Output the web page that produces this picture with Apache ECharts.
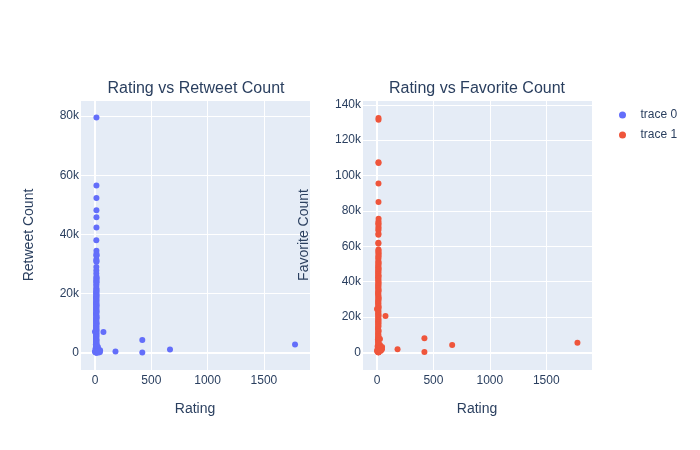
<!DOCTYPE html>
<html>
<head>
<meta charset="utf-8">
<script src="https://cdn.jsdelivr.net/npm/echarts@6/dist/echarts.min.js"></script>
<style>html,body{margin:0;padding:0;background:#fff}#c{width:700px;height:450px}</style>
</head>
<body>
<div id="c"></div>
<script>
// Data (rating, retweet count, favorite count)
const ratings = [
  12,13,12,13,11,12,13,10,12,13,11,12,13,12,10,11,13,12,12,11,
  13,10,12,11,12,13,10,11,12,9,13,10,11,12,8,10,11,7,9,5,
  12,3,10,14,12,13,11,
  26,27,44,45,24,20,17,15,
  12,13,14,13,12,12,12,13,13,12,13,14,13,13,12,13,13,13,13,
  0,75,182,420,420,666,1776,
  13,13,
  13,12,11,13,12,10,13,12,11,13,12,10,13,11,12,13,12,10,11,13,
  12,12,11,13,10,12,13,11,12,10,13,11,12,9,10,13,6,12,8,2,11,
  4,30,34,
  12,13,12,13
];
const retweets = [
  21800,21000,20400,19700,19100,18500,17900,17200,16700,16100,15500,14900,14300,13700,13200,12600,12000,11500,10900,10300,
  9800,9200,8700,8100,7600,7000,6500,6000,5500,5000,4500,4000,3600,3100,2700,2300,1900,1500,1100,800,
  500,250,100,0,1700,3000,600,
  2000,1400,300,900,700,350,1200,2400,
  22600,24000,25000,25800,26800,27800,29000,30800,31000,31500,32800,33000,33500,34500,38000,42300,45800,48200,52300,
  7100,7000,470,4300,100,1150,2800,
  56500,79500,
  21400,20700,20000,19400,18800,18200,17500,16900,16400,15800,15200,14600,14000,13400,12900,12300,11700,11200,10600,10000,
  9500,8900,8400,7800,7300,6700,6200,5700,5200,4700,4200,3800,3300,2900,2500,2100,1300,950,650,350,150,
  400,600,150,
  23200,23800,24500,25300
];
const favorites = [
  51500,50200,48800,47500,46300,45000,43600,42400,41000,39700,38400,37100,35800,34500,33200,31900,30600,29300,28000,26700,
  25400,24100,22800,21500,20200,18900,17600,16300,15000,13700,12400,11100,9800,8500,7200,6000,4800,3700,2600,1600,
  900,400,150,0,0,0,0,
  7500,4200,1800,3000,2100,1300,3600,7800,
  52800,55000,56000,58200,61500,62000,66500,67000,70000,69000,71000,75500,74000,72500,73000,85000,95500,107000,107500,
  24500,20500,1800,7900,250,4200,5400,
  131500,132500,
  50800,49500,48100,46900,45600,44300,43000,41700,40300,39000,37800,36400,35100,33800,32500,31200,29900,28600,27400,26000,
  24800,23500,22100,20900,19500,18200,16900,15700,14400,13000,11800,10400,9100,7900,6600,5400,3200,2100,1300,700,300,
  1200,2500,900,
  53500,54300,56800,57400
];

const xTicks = [0, 500, 1000, 1500];
const font = 'Liberation Sans, Arial, sans-serif';
const txt = '#2a3f5f';

function kfmt(v){ if (v === 0) return '0'; if (v % 20000 !== 0) return ''; return (v/1000) + 'k'; }
function xfmt(v){ return xTicks.indexOf(v) >= 0 ? String(v) : ''; }

function xAxisCfg(gi, min, max){
  return {
    type:'value', gridIndex:gi, min:min, max:max, splitNumber:5,
    name:'Rating', nameLocation:'middle', nameGap:32,
    nameTextStyle:{color:txt, fontSize:14, fontFamily:font},
    axisLine:{show:false}, axisTick:{show:false},
    axisLabel:{color:txt, fontSize:12, fontFamily:font, formatter:xfmt, margin:5, showMinLabel:false, showMaxLabel:false},
    splitLine:{show:true, lineStyle:{color:'#ffffff', width:1}}
  };
}
function yAxisCfg(gi, min, max, name, split, gap){
  return {
    type:'value', gridIndex:gi, min:min, max:max, splitNumber:split,
    name:name, nameLocation:'middle', nameGap:gap,
    nameTextStyle:{color:txt, fontSize:14, fontFamily:font},
    axisLine:{show:false}, axisTick:{show:false},
    axisLabel:{color:txt, fontSize:12, fontFamily:font, formatter:kfmt, margin:1, showMinLabel:false, showMaxLabel:false},
    splitLine:{show:true, lineStyle:{color:'#ffffff', width:1}}
  };
}
function zeroLines(xi, yi){
  return {
    type:'scatter', xAxisIndex:xi, yAxisIndex:yi, data:[], z:0, silent:true,
    markLine:{silent:true, symbol:'none', label:{show:false}, animation:false, z:0,
      lineStyle:{color:'#ffffff', width:2, type:'solid'},
      data:[{xAxis:0},{yAxis:0}]}
  };
}

const chart = echarts.init(document.getElementById('c'), null, {renderer:'canvas'});
chart.setOption({
  animation:false,
  backgroundColor:'#ffffff',
  title:[
    {text:'Rating vs Retweet Count', left:191, top:76, textAlign:'center',
     textStyle:{color:txt, fontSize:16, fontWeight:'normal', fontFamily:font}},
    {text:'Rating vs Favorite Count', left:472, top:76, textAlign:'center',
     textStyle:{color:txt, fontSize:16, fontWeight:'normal', fontFamily:font}}
  ],
  legend:{
    data:['trace 0','trace 1'], orient:'vertical', left:614, top:104, itemGap:8,
    itemWidth:26, itemHeight:7, icon:'circle',
    textStyle:{color:txt, fontSize:12, fontFamily:font}
  },
  grid:[
    {left:80, right:390, top:100, bottom:80, show:true, backgroundColor:'#E5ECF6', borderWidth:0, z:0},
    {left:362, right:108, top:100, bottom:80, show:true, backgroundColor:'#E5ECF6', borderWidth:0, z:0}
  ],
  xAxis:[ xAxisCfg(0, -133, 1909), xAxisCfg(1, -133, 1905) ],
  yAxis:[ yAxisCfg(0, -5800, 85400, 'Retweet Count', 5, 44), yAxisCfg(1, -10000, 142700, 'Favorite Count', 7, 51) ],
  series:[
    zeroLines(0,0), zeroLines(1,1),
    {name:'trace 0', type:'scatter', xAxisIndex:0, yAxisIndex:0, symbolSize:6, z:5,
     itemStyle:{color:'#636efa', opacity:1},
     data: ratings.map((r,i)=>[r, retweets[i]])},
    {name:'trace 1', type:'scatter', xAxisIndex:1, yAxisIndex:1, symbolSize:6, z:5,
     itemStyle:{color:'#EF553B', opacity:1},
     data: ratings.map((r,i)=>[r, favorites[i]])}
  ]
});
</script>
</body>
</html>
